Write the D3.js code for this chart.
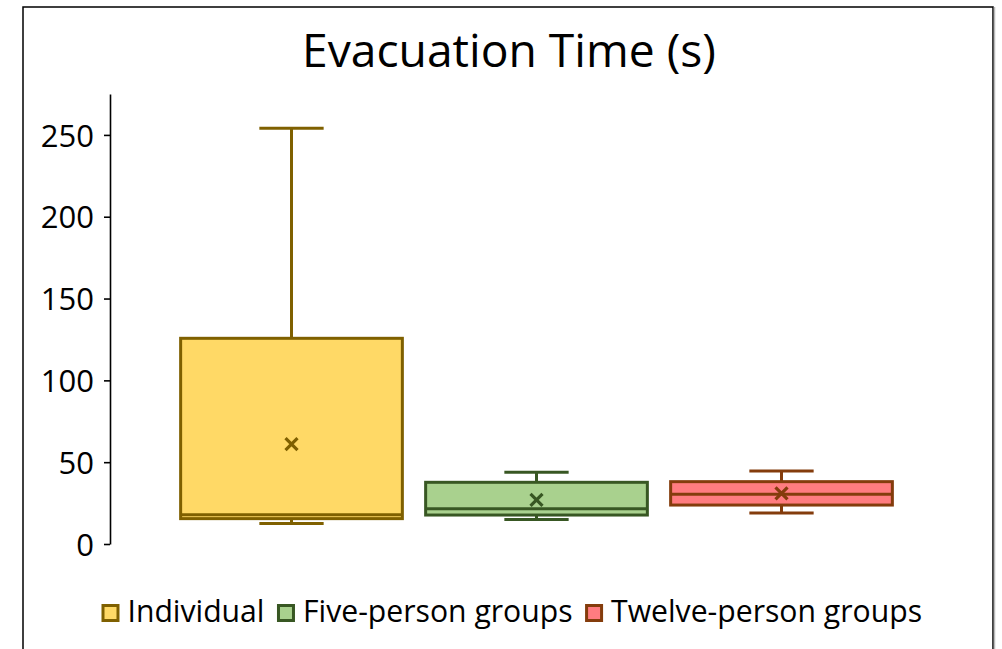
<!DOCTYPE html>
<html>
<head>
<meta charset="utf-8">
<script src="https://cdn.jsdelivr.net/npm/d3@7"></script>
<style>
  html, body { margin: 0; padding: 0; background: #fff; }
  svg { display: block; }
  text { font-family: "Open Sans", Lato, sans-serif; fill: #000; }
</style>
</head>
<body>
<svg id="chart" width="1002" height="649"></svg>
<script>
// ---- data ----
const categories = ["Individual", "Five-person groups", "Twelve-person groups"];
const minVals    = [12.5, 15, 19];
const q1Vals     = [15.5, 17.7, 23.8];
const medianVals = [17.9, 21.6, 30.4];
const q3Vals     = [125.7, 37.7, 38.1];
const maxVals    = [254, 43.8, 44.6];
const meanVals   = [61, 27, 31];
const yTicks     = [0, 50, 100, 150, 200, 250];
const fillColors   = ["#FFD966", "#A9D18E", "#FF7C80"];
const strokeColors = ["#7F6000", "#385723", "#843C0C"];

const svg = d3.select("#chart");

// fit a text element's font size so its width matches a target
function fitWidth(sel, base, target) {
  sel.style("font-size", base + "px");
  const w = sel.node().getComputedTextLength();
  sel.style("font-size", (base * target / w).toFixed(2) + "px");
}

// frame
svg.append("rect").attr("x", 23).attr("y", 7).attr("width", 970).attr("height", 660)
  .attr("fill", "none").attr("stroke", "#000").attr("stroke-width", 1.5);
svg.append("line").attr("x1", 994.5).attr("x2", 994.5).attr("y1", 7).attr("y2", 649)
  .attr("stroke", "#bbb").attr("stroke-width", 1.5);

// title
const title = svg.append("text").attr("x", 509).attr("y", 67).attr("text-anchor", "middle")
  .text("Evacuation Time (s)");
fitWidth(title, 38, 414);

// scales
const y = d3.scaleLinear().domain([0, 275]).range([544, 94]);
const x = d3.scaleBand().domain(categories).range([169, 904])
  .paddingInner(0.095).paddingOuter(0.0475);

// y axis
const yAxis = d3.axisLeft(y).tickValues(yTicks).tickSize(6).tickSizeOuter(0).tickPadding(10);
const gy = svg.append("g").attr("transform", "translate(110,0)").call(yAxis);
gy.select(".domain").attr("stroke", "#000").attr("stroke-width", 1.6);
gy.selectAll(".tick line").attr("stroke", "#000").attr("stroke-width", 1.6);
gy.selectAll(".tick text").style("font-size", "31px").style("font-family", "'Open Sans', sans-serif")
  .attr("dy", "0.36em");

// boxes
const data = categories.map((c, i) => ({
  c, i, min: minVals[i], q1: q1Vals[i], med: medianVals[i], q3: q3Vals[i], max: maxVals[i], mean: meanVals[i]
}));
const bw = x.bandwidth();
const capW = bw * 0.29;
const g = svg.append("g");
const box = g.selectAll("g.box").data(data).join("g").attr("class", "box")
  .attr("transform", d => `translate(${x(d.c)},0)`);
const sw = 3;
// whiskers
box.append("line").attr("x1", bw / 2).attr("x2", bw / 2)
  .attr("y1", d => y(d.max)).attr("y2", d => y(d.q3))
  .attr("stroke", d => strokeColors[d.i]).attr("stroke-width", sw);
box.append("line").attr("x1", bw / 2).attr("x2", bw / 2)
  .attr("y1", d => y(d.q1)).attr("y2", d => y(d.min))
  .attr("stroke", d => strokeColors[d.i]).attr("stroke-width", sw);
box.append("line").attr("x1", bw / 2 - capW / 2).attr("x2", bw / 2 + capW / 2)
  .attr("y1", d => y(d.max)).attr("y2", d => y(d.max))
  .attr("stroke", d => strokeColors[d.i]).attr("stroke-width", sw);
box.append("line").attr("x1", bw / 2 - capW / 2).attr("x2", bw / 2 + capW / 2)
  .attr("y1", d => y(d.min)).attr("y2", d => y(d.min))
  .attr("stroke", d => strokeColors[d.i]).attr("stroke-width", sw);
// box
box.append("rect").attr("x", 0).attr("width", bw)
  .attr("y", d => y(d.q3)).attr("height", d => y(d.q1) - y(d.q3))
  .attr("fill", d => fillColors[d.i]).attr("stroke", d => strokeColors[d.i]).attr("stroke-width", sw);
// median
box.append("line").attr("x1", 0).attr("x2", bw)
  .attr("y1", d => y(d.med)).attr("y2", d => y(d.med))
  .attr("stroke", d => strokeColors[d.i]).attr("stroke-width", sw);
// mean marker
const m = 6;
box.append("path")
  .attr("d", d => {
    const cx = bw / 2, cy = y(d.mean);
    return `M${cx - m},${cy - m}L${cx + m},${cy + m}M${cx - m},${cy + m}L${cx + m},${cy - m}`;
  })
  .attr("stroke", d => strokeColors[d.i]).attr("stroke-width", 3.2).attr("fill", "none");

// legend
const legend = svg.append("g");
const items = legend.selectAll("g").data(categories).join("g");
items.append("rect").attr("x", 1.5).attr("y", -16.5).attr("width", 15).attr("height", 15)
  .attr("fill", (d, i) => fillColors[i]).attr("stroke", (d, i) => strokeColors[i]).attr("stroke-width", 3);
const ltxt = items.append("text").attr("x", 26).attr("y", 0).text(d => d);
// size legend text so "Individual" matches the reference width
fitWidth(ltxt.filter((d, i) => i === 0), 28, 137);
const lfs = ltxt.filter((d, i) => i === 0).style("font-size");
ltxt.style("font-size", lfs);
let cursor = 0;
items.each(function () {
  d3.select(this).attr("transform", `translate(${cursor},0)`);
  cursor += this.getBBox().width + 14;
});
const total = cursor - 14;
legend.attr("transform", `translate(${511 - total / 2},622)`);
</script>
</body>
</html>
